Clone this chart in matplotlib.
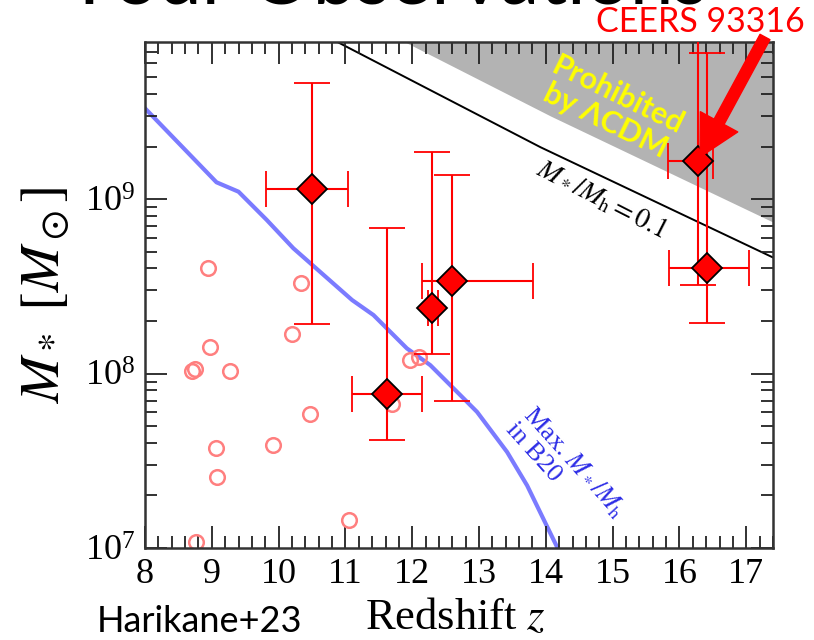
import numpy as np
import matplotlib
matplotlib.use("Agg")
import matplotlib.pyplot as plt
from matplotlib.ticker import MultipleLocator, LogLocator, NullFormatter

plt.rcParams['font.family'] = ['Liberation Serif', 'DejaVu Serif']
plt.rcParams['mathtext.fontset'] = 'stix'

# Harikane+23 galaxies (filled diamonds): z, z_lo, z_hi, M*, M*_lo, M*_hi
z_gal = [10.50, 11.62, 12.29, 12.59, 16.27, 16.41]
z_lo = [9.81, 11.10, 12.23, 12.14, 15.83, 15.84]
z_hi = [11.04, 12.14, 12.38, 13.81, 16.50, 17.04]
m_gal = [1.14e9, 7.67e7, 2.37e8, 3.38e8, 1.65e9, 4.0e8]
m_lo = [1.91e8, 4.18e7, 1.29e8, 7.0e7, 3.2e8, 1.94e8]
m_hi = [4.64e9, 6.81e8, 1.86e9, 1.37e9, 2.0e10, 6.9e9]

# open circles (lower-z sample)
z_circ = [8.95, 10.34, 10.20, 8.97, 8.70, 8.75, 9.27, 10.47, 9.07, 9.91,
          9.08, 11.06, 8.76, 11.97, 12.10, 11.70]
m_circ = [4.05e8, 3.29e8, 1.68e8, 1.41e8, 1.03e8, 1.06e8, 1.03e8, 5.89e7,
          3.74e7, 3.87e7, 2.55e7, 1.44e7, 1.08e7, 1.19e8, 1.25e8, 6.73e7]

# max M*/Mh in B20 (blue curve), log M*
z_b20 = [8.0, 9.07, 9.40, 9.82, 10.22, 11.10, 11.42, 11.92, 12.27, 12.67,
         12.97, 13.42, 13.72, 14.17]
logm_b20 = [9.52, 9.096, 9.042, 8.881, 8.718, 8.421, 8.335, 8.144, 8.048,
            7.895, 7.780, 7.550, 7.358, 7.004]

# M*/Mh = 0.1 line, log M*
z_01 = [10.85, 13.92, 17.4]
logm_01 = [9.906, 9.297, 8.665]

# edge of region prohibited by LCDM, log M*
z_pro = [11.82, 14.07, 17.4]
logm_pro = [9.914, 9.476, 8.868]

fig = plt.figure(figsize=(8.14, 6.4), dpi=100)
ax = fig.add_axes([145/814, 1-548/640, 628/814, 506/640])

ytop = 10**9.9
ax.fill_between(z_pro, 10**np.array(logm_pro), ytop, color='#b3b3b3', lw=0, zorder=0)
ax.plot(z_01, 10**np.array(logm_01), color='k', lw=1.4, zorder=1)
ax.plot(z_b20, 10**np.array(logm_b20), color='#7b7bff', lw=3, zorder=1)

ax.plot(z_circ, m_circ, 'o', ms=10.5, mfc='none', mec='#ff7f7f', mew=1.8, zorder=2)

z_gal = np.array(z_gal)
m_gal = np.array(m_gal)
xerr = [z_gal - np.array(z_lo), np.array(z_hi) - z_gal]
yerr = [m_gal - np.array(m_lo), np.array(m_hi) - m_gal]
ax.errorbar(z_gal, m_gal, xerr=xerr, yerr=yerr, fmt='D', ms=15, mfc='red',
            mec='black', mew=1.3, ecolor='red', elinewidth=1.5, capsize=13,
            capthick=1.5, zorder=3)

ax.set_yscale('log')
ax.set_xlim(8, 17.4)
ax.set_ylim(1e7, ytop)
ax.xaxis.set_major_locator(MultipleLocator(1))
ax.xaxis.set_minor_locator(MultipleLocator(0.2))
ax.yaxis.set_major_locator(LogLocator(base=10))
ax.yaxis.set_minor_locator(LogLocator(base=10, subs=np.arange(2, 10)))
ax.yaxis.set_minor_formatter(NullFormatter())
ax.tick_params(which='both', direction='in', top=True, right=True, width=1.3,
               color='#222222', labelsize=26)
ax.tick_params(which='major', length=16, pad=7)
ax.tick_params(which='minor', length=8.5)
for s in ax.spines.values():
    s.set_linewidth(1.8)
    s.set_color('#333333')

fig.text(455/814, 1-629/640, 'Redshift $z$', fontsize=32, ha='center', va='baseline')
ax.set_ylabel(r'$M_*\ [M_\odot]$', fontsize=40)
ax.yaxis.set_label_coords(-0.118, 0.5)

ax.text(14.84, 10**9.0, r'$M_*/M_{\rm h}=0.1$', fontsize=20, rotation=-27,
        ha='center', va='center')
ax.text(14.3, 10**7.45, 'Max. $M_*/M_{\\rm h}$\nin B20', fontsize=19, color='#2b2be6',
        rotation=-48, ha='center', va='center', multialignment='left',
        linespacing=1.0)
ax.text(14.99, 10**9.523, 'Prohibited\nby \u039bCDM', fontsize=22, color='yellow',
        fontweight='bold', family=['Lato', 'DejaVu Sans'], rotation=-26,
        ha='center', va='center', multialignment='center', linespacing=1.0)

# arrow pointing at CEERS 93316
fig.patches.append(matplotlib.patches.FancyArrowPatch(
    (765, 603), (700, 483), transform=None,
    arrowstyle='simple,head_length=1.6,head_width=1.7,tail_width=0.45',
    mutation_scale=18, color='red', shrinkA=0, shrinkB=0, zorder=5))
fig.text(700/814, 1-22/640, 'CEERS 93316', color='red', fontsize=24.5,
         family=['Lato', 'DejaVu Sans'], ha='center', va='center')

# slide title, mostly cut off by the top edge; stretch it to its width in the slide
title = fig.text(65/814, 1-4/640, 'Your Observations', fontsize=56,
                 family=['Lato', 'DejaVu Sans'], ha='left', va='baseline')
w = title.get_window_extent(renderer=fig.canvas.get_renderer()).width
title.set_fontsize(56 * 642 / w)

fig.text(97/814, 1-632/640, 'Harikane+23', fontsize=26,
         family=['Lato', 'DejaVu Sans'], ha='left', va='baseline')

fig.savefig('out.png', dpi=100)
